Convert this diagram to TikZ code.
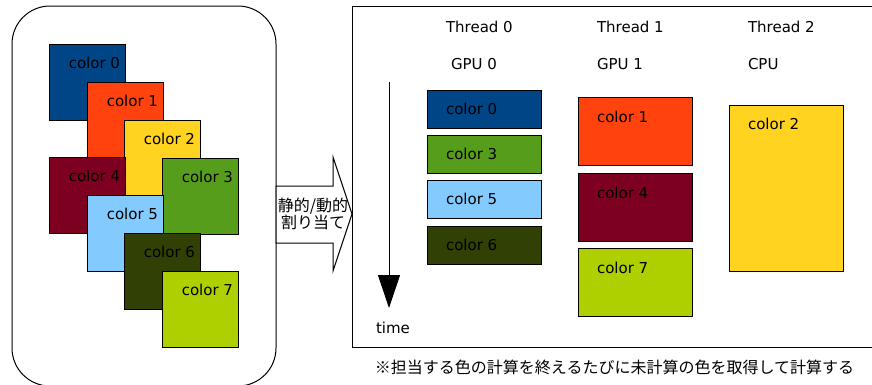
\documentclass[tikz,border=0pt]{standalone}
\usepackage{fontspec}
\setmainfont{DejaVu Sans}
\newfontfamily\jp{Noto Sans CJK JP}
\usetikzlibrary{arrows.meta,calc}
\definecolor{c0}{HTML}{004586}
\definecolor{c1}{HTML}{FF420E}
\definecolor{c2}{HTML}{FFD320}
\definecolor{c3}{HTML}{579D1C}
\definecolor{c4}{HTML}{7E0021}
\definecolor{c5}{HTML}{83CAFF}
\definecolor{c6}{HTML}{314004}
\definecolor{c7}{HTML}{AECF00}
\begin{document}
\begin{tikzpicture}[x=1pt,y=-1pt,font=\fontsize{15}{18}\selectfont,
  edge/.style={draw=black,line width=1pt},
  sq/.style={edge,minimum width=76pt,minimum height=76pt,anchor=north west,inner sep=0pt,outer sep=0pt},
  job/.style={edge,minimum width=114pt,anchor=north west,inner sep=0pt,outer sep=0pt},
  txt/.style={inner sep=0pt,outer sep=0pt}]
\useasboundingbox (0,0) rectangle (872,384);
\clip (0,0) rectangle (872,384);
% left rounded frame
\draw[edge,rounded corners=38pt] (12,6) rectangle (276,386);
% stacked colour squares
\foreach \n/\x/\y in {0/49/44,1/87/82,2/124/120,4/49/157,3/162/158,5/87/195,6/124/233,7/162/271}{
  \node[sq,fill=c\n] (L\n) at (\x,\y) {};
  \node[txt,anchor=base east] (LT\n) at ($(L\n.north east)+(-5,24)$) {color \n};
}
% block arrow
\draw[edge,fill=white] (276,186) -- (333,186) -- (333,157) -- (352,214) -- (333,271) -- (333,243) -- (276,243) -- cycle;
\node[txt,align=center,font=\jp\fontsize{16}{17}\selectfont] (assign) at (313,214) {静的/動的\\割り当て};
% right frame
\draw[edge] (880,6) -- (352,6) -- (352,347) -- (880,347);
% headers
\node[txt,anchor=base west] (T0) at (446,32) {Thread 0};
\node[txt,anchor=base west] (T1) at (597,32) {Thread 1};
\node[txt,anchor=base west] (T2) at (748,32) {Thread 2};
\node[txt,anchor=base west] (G0) at (451,69) {GPU 0};
\node[txt,anchor=base west] (G1) at (597,69) {GPU 1};
\node[txt,anchor=base west] (G2) at (748,69) {CPU};
% time axis
\coordinate (ts) at (389,82);
\coordinate (te) at (389,308);
\draw[line width=1pt,-{Triangle[width=22pt,length=33pt]}] (ts) -- (te);
\node[txt,anchor=base west] (time) at (376,333) {time};
% GPU 0 column
\foreach \n/\y in {0/90,3/135,5/180,6/226}{
  \node[job,minimum height=38pt,fill=c\n] (A\n) at (427,\y) {};
  \node[txt,anchor=base west] at ($(A\n.north west)+(19,24)$) {color \n};
}
% GPU 1 column
\foreach \n/\y in {1/97,4/173,7/248}{
  \node[job,minimum height=68pt,fill=c\n] (B\n) at (578,\y) {};
  \node[txt,anchor=base west] at ($(B\n.north west)+(19,25)$) {color \n};
}
% CPU column
\node[job,minimum height=166pt,fill=c2] (C2) at (729,105) {};
\node[txt,anchor=base west] (CT2) at ($(C2.north west)+(19,24)$) {color 2};
% note
\node[txt,font=\jp\fontsize{16}{17}\selectfont] (note) at (614.5,367) {※担当する色の計算を終えるたびに未計算の色を取得して計算する};
\end{tikzpicture}
\end{document}
